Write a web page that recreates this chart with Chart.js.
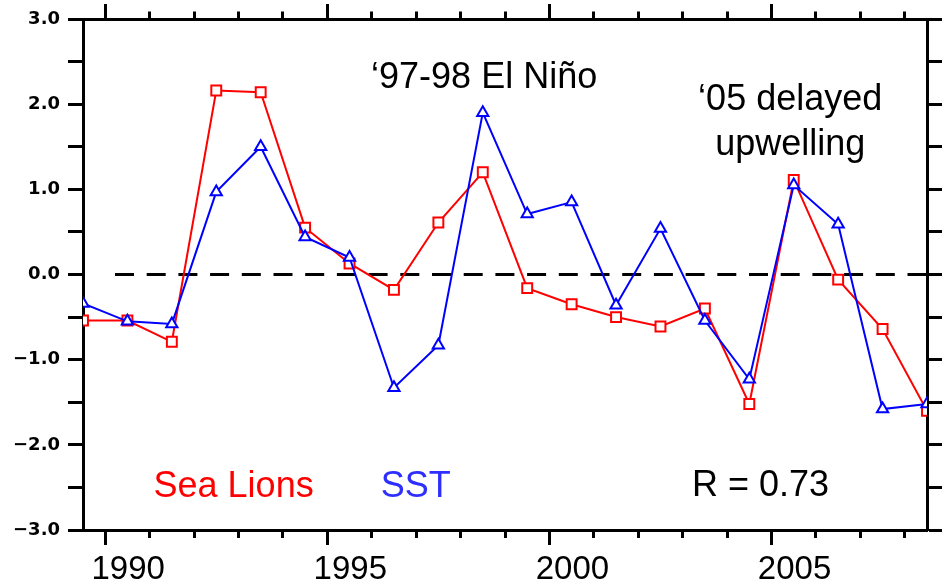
<!DOCTYPE html>
<html><head><meta charset="utf-8">
<script src="https://cdn.jsdelivr.net/npm/chart.js@4/dist/chart.umd.min.js"></script>
<style>html,body{margin:0;padding:0;background:#fff}canvas{display:block}</style>
</head><body>
<canvas id="c" width="942" height="583"></canvas>
<script>
// ---- data ----
const years    = [1989.5,1990.5,1991.5,1992.5,1993.5,1994.5,1995.5,1996.5,1997.5,1998.5,1999.5,2000.5,2001.5,2002.5,2003.5,2004.5,2005.5,2006.5,2007.5,2008.5];
const seaLions = [-0.54,-0.54,-0.79,2.16,2.14,0.55,0.13,-0.18,0.61,1.20,-0.16,-0.35,-0.50,-0.61,-0.40,-1.52,1.11,-0.06,-0.64,-1.60];
const sst      = [-0.34,-0.55,-0.58,0.97,1.50,0.44,0.20,-1.33,-0.83,1.90,0.71,0.85,-0.36,0.54,-0.54,-1.23,1.05,0.59,-1.58,-1.52];
const xTickYears  = [1990,1991,1992,1993,1994,1995,1996,1997,1998,1999,2000,2001,2002,2003,2004,2005,2006,2007,2008];
const xTickLabels = ['1990','1995','2000','2005'];
const seriesNames = ['Sea Lions','SST'];
const annotationTexts = ['\u201897-98 El Ni\u00f1o','\u201805 delayed','upwelling','R = 0.73'];

const fmtY = v => Number.isInteger(v) ? ((v < 0 ? '\u2212' : '') + Math.abs(v).toFixed(1)) : '';
const isMajorX = v => xTickLabels.includes(String(v));

const notes = [
  {text: annotationTexts[0], x: 1998.53, y: 2.19, color: '#000'},
  {text: annotationTexts[1], x: 2005.42, y: 1.93, color: '#000'},
  {text: annotationTexts[2], x: 2005.42, y: 1.40, color: '#000'},
  {text: seriesNames[0],     x: 1992.89, y: -2.61, color: '#ff0000'},
  {text: seriesNames[1],     x: 1996.99, y: -2.61, color: '#2e2eff'},
  {text: annotationTexts[3], x: 2004.75, y: -2.60, color: '#000'}
];

const overlay = {
  id: 'overlay',
  beforeDatasetsDraw(chart) {
    const {ctx, chartArea, scales} = chart;
    const yy = scales.y.getPixelForValue(0);
    ctx.save();
    ctx.strokeStyle = '#000';
    ctx.lineWidth = 3;
    ctx.setLineDash([19, 12.7]);
    ctx.beginPath();
    ctx.moveTo(chartArea.left + 32, yy);
    ctx.lineTo(chartArea.right, yy);
    ctx.stroke();
    ctx.restore();
  },
  afterDatasetsDraw(chart) {
    const {ctx, scales} = chart;
    ctx.save();
    ctx.font = '36px "Liberation Sans", Arial, sans-serif';
    ctx.textAlign = 'center';
    ctx.textBaseline = 'alphabetic';
    notes.forEach(n => {
      ctx.fillStyle = n.color;
      ctx.fillText(n.text, scales.x.getPixelForValue(n.x), scales.y.getPixelForValue(n.y));
    });
    ctx.restore();
  }
};

const border = {display: true, color: '#000', width: 3};
const setXTicks = s => { s.ticks = xTickYears.map(v => ({value: v})); };
const yStep = 0.5;

new Chart(document.getElementById('c'), {
  type: 'line',
  data: {
    datasets: [
      {
        label: seriesNames[0],
        data: years.map((x, i) => ({x, y: seaLions[i]})),
        borderColor: '#ff0000', borderWidth: 2,
        pointStyle: 'rect', pointRadius: 7, pointBorderWidth: 2,
        pointBorderColor: '#ff0000', pointBackgroundColor: '#ffffff',
        order: 1, tension: 0
      },
      {
        label: seriesNames[1],
        data: years.map((x, i) => ({x, y: sst[i]})),
        borderColor: '#0000ff', borderWidth: 2,
        pointStyle: 'triangle', pointRadius: 6.5, pointBorderWidth: 2,
        pointBorderColor: '#0000ff', pointBackgroundColor: '#ffffff',
        order: 0, tension: 0
      }
    ]
  },
  options: {
    responsive: false,
    animation: false,
    devicePixelRatio: 1,
    layout: {padding: 0, autoPadding: false},
    plugins: {legend: {display: false}, tooltip: {enabled: false}},
    scales: {
      x: {
        type: 'linear', position: 'bottom', min: 1989.5, max: 2008.5,
        border,
        afterBuildTicks: setXTicks,
        grid: {
          drawOnChartArea: false, tickLength: 15, tickWidth: 3, tickColor: '#000',
          tickBorderDash: c => (c.tick && isMajorX(c.tick.value)) ? [] : [6, 40]
        },
        ticks: {
          autoSkip: false, maxRotation: 0, minRotation: 0,
          labelOffset: 23, padding: 5, color: '#000',
          font: {family: '"Liberation Sans", Arial, sans-serif', size: 33},
          callback: v => isMajorX(v) ? String(v) : ''
        },
        afterFit: s => { s.height = 53; }
      },
      x2: {
        type: 'linear', position: 'top', min: 1989.5, max: 2008.5,
        border,
        afterBuildTicks: setXTicks,
        grid: {
          drawOnChartArea: false, tickLength: 15, tickWidth: 3, tickColor: '#000',
          tickBorderDash: c => (c.tick && isMajorX(c.tick.value)) ? [] : [0, 7.5, 20, 0]
        },
        ticks: {display: false, autoSkip: false},
        afterFit: s => { s.height = 19; }
      },
      y: {
        type: 'linear', position: 'left', min: -3, max: 3,
        border,
        grid: {drawOnChartArea: false, tickLength: 15, tickWidth: 3, tickColor: '#000'},
        ticks: {
          stepSize: yStep, autoSkip: false, padding: 8, color: '#000',
          font: {family: '"DejaVu Sans", sans-serif', size: 18, weight: 'bold'},
          callback: v => fmtY(v)
        },
        afterFit: s => { s.width = 83; }
      },
      y2: {
        type: 'linear', position: 'right', min: -3, max: 3,
        border,
        grid: {drawOnChartArea: false, tickLength: 15, tickWidth: 3, tickColor: '#000'},
        ticks: {display: false, stepSize: yStep, autoSkip: false},
        afterFit: s => { s.width = 15; }
      }
    }
  },
  plugins: [overlay]
});
</script>
</body></html>
